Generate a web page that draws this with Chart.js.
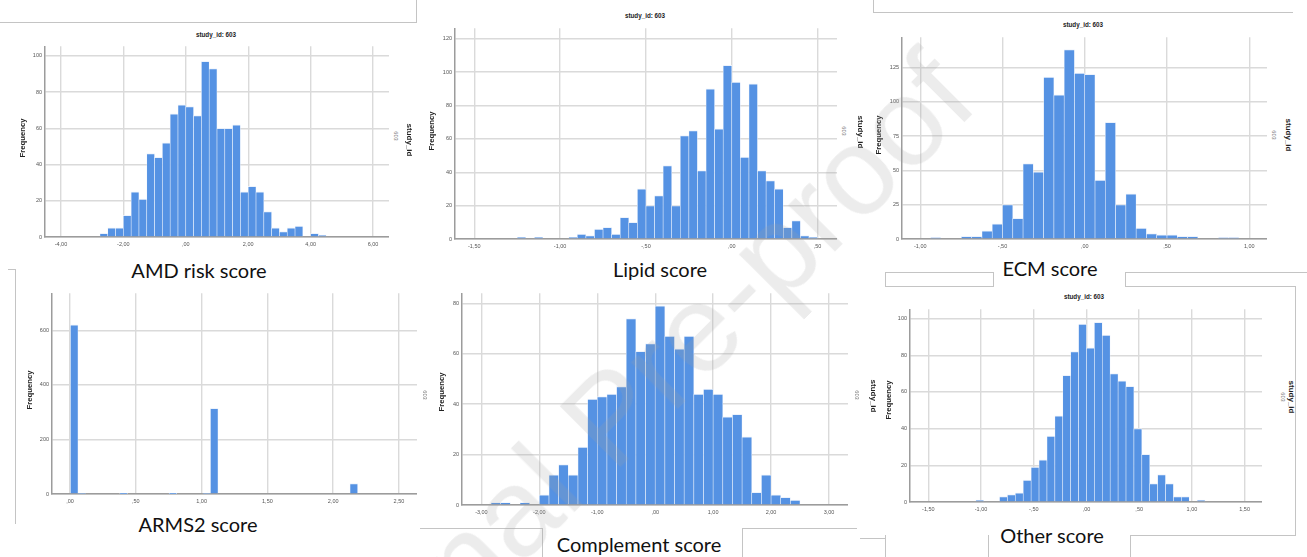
<!DOCTYPE html>
<html>
<head>
<meta charset="utf-8">
<script src="https://cdn.jsdelivr.net/npm/chart.js@4.4.1/dist/chart.umd.min.js"></script>
<style>
  html, body { margin: 0; padding: 0; background: #ffffff; }
  #stage { position: relative; width: 1307px; height: 557px; overflow: hidden; background: #fff; }
  canvas { position: absolute; }
  .t { position: absolute; white-space: nowrap; line-height: 1; transform: translate(-50%, -50%); font-family: "Liberation Sans", Arial, sans-serif; }
  .rot { transform: translate(-50%, -50%) rotate(-90deg); }
  .rotr { transform: translate(-50%, -50%) rotate(90deg); }
  .freq { font-weight: bold; font-size: 7.7px; color: #222; }
  .ttl { font-weight: bold; font-size: 6.3px; color: #222; }
  .sid { font-weight: bold; font-size: 8px; color: #222; }
  .num { font-size: 5.6px; color: #777; }
  .big { font-family: Lato, "Open Sans", sans-serif; font-size: 20px; color: #111; }
  .ln { position: absolute; background: #c4c4c4; }
  #wm { position: absolute; left: 609px; top: 416px; transform: translate(-50%, -50%) rotate(-45deg);
        font-family: "Liberation Sans", Arial, sans-serif; font-size: 125px; color: rgba(160,160,160,0.2);
        white-space: nowrap; line-height: 1; pointer-events: none; z-index: 10; }
</style>
</head>
<body>
<div id="stage"></div>
<script>
// ---------------- DATA ----------------
// AMD risk score
const amdBins   = [-2.625,-2.375,-2.125,-1.875,-1.625,-1.375,-1.125,-0.875,-0.625,-0.375,-0.125,0.125,0.375,0.625,0.875,1.125,1.375,1.625,1.875,2.125,2.375,2.625,2.875,3.125,3.375,3.625,3.875,4.125,4.375];
const amdCounts = [2,5,5,12,25,21,46,44,52,68,73,72,67,97,93,60,60,62,25,28,25,14,5,3,5,6,0,2,1];
const amdXTicks = [-4,-2,0,2,4,6];
const amdXLabels = ['-4,00','-2,00',',00','2,00','4,00','6,00'];
const amdYTicks = [0,20,40,60,80,100];

// Lipid score
const lipidBins   = [-1.225,-1.175,-1.125,-1.075,-1.025,-0.975,-0.925,-0.875,-0.825,-0.775,-0.725,-0.675,-0.625,-0.575,-0.525,-0.475,-0.425,-0.375,-0.325,-0.275,-0.225,-0.175,-0.125,-0.075,-0.025,0.025,0.075,0.125,0.175,0.225,0.275,0.325,0.375,0.425,0.475];
const lipidCounts = [1,0,1,0,0,0,1,3,2,6,7,3,13,10,30,20,26,44,20,62,65,41,90,66,104,94,49,93,41,35,30,7,11,2,1];
const lipidXTicks = [-1.5,-1,-0.5,0,0.5];
const lipidXLabels = ['-1,50','-1,00','-,50',',00',',50'];
const lipidYTicks = [0,20,40,60,80,100,120];

// ECM score
const ecmBins   = [-0.90625,-0.84375,-0.78125,-0.71875,-0.65625,-0.59375,-0.53125,-0.46875,-0.40625,-0.34375,-0.28125,-0.21875,-0.15625,-0.09375,-0.03125,0.03125,0.09375,0.15625,0.21875,0.28125,0.34375,0.40625,0.46875,0.53125,0.59375,0.65625,0.71875,0.78125,0.84375,0.90625];
const ecmCounts = [1,0,0,2,2,6,11,25,15,55,49,118,105,138,121,120,43,85,25,33,8,4,3,3,2,2,0,0,1,1];
const ecmXTicks = [-1,-0.5,0,0.5,1];
const ecmXLabels = ['-1,00','-,50',',00',',50','1,00'];
const ecmYTicks = [0,25,50,75,100,125];

// ARMS2 score
const armsBins   = [0.032,0.090,0.407,0.782,1.038,1.096,2.157];
const armsCounts = [620,2,1,1,2,314,38];
const armsXTicks = [0,0.5,1,1.5,2,2.5];
const armsXLabels = [',00',',50','1,00','1,50','2,00','2,50'];
const armsYTicks = [0,200,400,600];

// Complement score
const compBins   = [-2.75,-2.5833,-2.4167,-2.25,-2.0833,-1.9167,-1.75,-1.5833,-1.4167,-1.25,-1.0833,-0.9167,-0.75,-0.5833,-0.4167,-0.25,-0.0833,0.0833,0.25,0.4167,0.5833,0.75,0.9167,1.0833,1.25,1.4167,1.5833,1.75,1.9167,2.0833,2.25,2.4167];
const compCounts = [1,1,0,1,0,4,12,16,12,23,42,43,44,47,74,61,64,79,67,62,67,44,46,44,35,36,27,5,12,4,3,2];
const compXTicks = [-3,-2,-1,0,1,2,3];
const compXLabels = ['-3,00','-2,00','-1,00',',00','1,00','2,00','3,00'];
const compYTicks = [0,20,40,60,80];

// Other score
const otherBins   = [-1.0125,-0.9375,-0.8625,-0.7875,-0.7125,-0.6375,-0.5625,-0.4875,-0.4125,-0.3375,-0.2625,-0.1875,-0.1125,-0.0375,0.0375,0.1125,0.1875,0.2625,0.3375,0.4125,0.4875,0.5625,0.6375,0.7125,0.7875,0.8625,0.9375,1.0125,1.0875];
const otherCounts = [1,0,0,3,4,5,12,19,23,36,47,69,82,97,84,98,91,70,66,63,40,26,10,15,10,3,3,0,1];
const otherXTicks = [-1.5,-1,-0.5,0,0.5,1,1.5];
const otherXLabels = ['-1,50','-1,00','-,50',',00',',50','1,00','1,50'];
const otherYTicks = [0,20,40,60,80,100];

const panelTitle = 'study_id: 603';
const groupVar = 'study_id';
const groupVal = '603';
// ---------------------------------------

const stage = document.getElementById('stage');
const Y_W = 30, X_H = 16;
const BAR = '#5592e3';

function makePanel(g, bins, counts, xTicks, xLabels, yTicks) {
  const left = Math.round(g.PL) - Y_W;
  const top = Math.round(g.PT);
  const w = Math.round(g.PR) - left;
  const h = Math.round(g.PB) - top + X_H;
  const cv = document.createElement('canvas');
  cv.width = w; cv.height = h;
  cv.style.left = left + 'px'; cv.style.top = top + 'px';
  cv.style.width = w + 'px'; cv.style.height = h + 'px';
  stage.appendChild(cv);
  new Chart(cv.getContext('2d'), {
    type: 'bar',
    data: {
      datasets: [{
        data: bins.map((b, i) => ({ x: b, y: counts[i] })),
        backgroundColor: BAR,
        borderColor: 'rgba(235,242,252,0.9)',
        borderWidth: { top: 1, left: 0.6, right: 0.6, bottom: 0 },
        borderSkipped: false,
        barPercentage: 1,
        categoryPercentage: 1
      }]
    },
    options: {
      responsive: false,
      animation: false,
      devicePixelRatio: 1,
      events: [],
      layout: { padding: 0 },
      plugins: { legend: { display: false }, tooltip: { enabled: false }, title: { display: false } },
      scales: {
        x: {
          type: 'linear', min: g.xmin, max: g.xmax, offset: false,
          afterBuildTicks: s => { s.ticks = xTicks.map(v => ({ value: v })); },
          afterFit: s => { s.height = X_H; },
          ticks: { callback: (v, i) => xLabels[i], autoSkip: false, maxRotation: 0, padding: 4,
                   color: '#555', font: { family: 'Liberation Sans', size: 5.5 } },
          grid: { color: '#dadada', lineWidth: 1.4, drawTicks: false, offset: false },
          border: { color: '#9c9c9c', width: 1.5 }
        },
        y: {
          type: 'linear', min: 0, max: g.ymax,
          afterBuildTicks: s => { s.ticks = yTicks.map(v => ({ value: v })); },
          afterFit: s => { s.width = Y_W; },
          ticks: { callback: v => String(v), padding: 3, color: '#555', font: { family: 'Liberation Sans', size: 5.5 } },
          grid: { color: '#dadada', lineWidth: 1.4, drawTicks: false },
          border: { color: '#9c9c9c', width: 1.5 }
        }
      }
    }
  });
}

makePanel({PL:45, PR:389, PT:40, PB:237.3, xmin:-4.51, xmax:6.51, ymax:105.3}, amdBins, amdCounts, amdXTicks, amdXLabels, amdYTicks);
makePanel({PL:455, PR:836.7, PT:21.7, PB:238.7, xmin:-1.6125, xmax:0.613, ymax:126.2}, lipidBins, lipidCounts, lipidXTicks, lipidXLabels, lipidYTicks);
makePanel({PL:901.7, PR:1266.7, PT:31, PB:239.3, xmin:-1.111, xmax:1.108, ymax:147}, ecmBins, ecmCounts, ecmXTicks, ecmXLabels, ecmYTicks);
makePanel({PL:52.3, PR:417.3, PT:286.7, PB:494.3, xmin:-0.137, xmax:2.637, ymax:735.6}, armsBins, armsCounts, armsXTicks, armsXLabels, armsYTicks);
makePanel({PL:462.3, PR:848.3, PT:287.3, PB:505, xmin:-3.335, xmax:3.328, ymax:84}, compBins, compCounts, compXTicks, compXLabels, compYTicks);
makePanel({PL:910, PR:1261.7, PT:302.7, PB:502.3, xmin:-1.674, xmax:1.665, ymax:105.05}, otherBins, otherCounts, otherXTicks, otherXLabels, otherYTicks);

function txt(s, cls, x, y) {
  const d = document.createElement('div');
  d.className = 't ' + cls;
  d.textContent = s;
  d.style.left = x + 'px'; d.style.top = y + 'px';
  stage.appendChild(d);
}
function line(x, y, w, h) {
  const d = document.createElement('div');
  d.className = 'ln';
  d.style.left = x + 'px'; d.style.top = y + 'px';
  d.style.width = w + 'px'; d.style.height = h + 'px';
  stage.appendChild(d);
}

// panel titles
txt(panelTitle, 'ttl', 216, 35);
txt(panelTitle, 'ttl', 645, 16);
txt(panelTitle, 'ttl', 1083, 25);
txt(panelTitle, 'ttl', 1084, 297);

// y-axis titles
txt('Frequency', 'freq rot', 23, 138);
txt('Frequency', 'freq rot', 432, 131);
txt('Frequency', 'freq rot', 879, 135);
txt('Frequency', 'freq rot', 30, 390);
txt('Frequency', 'freq rot', 442, 392);
txt('Frequency', 'freq rot', 889, 400);

// right-side panel variable labels
txt(groupVal, 'num rotr', 395, 136);
txt(groupVar, 'sid rotr', 409, 140);
txt(groupVal, 'num rotr', 843, 131);
txt(groupVar, 'sid rotr', 860, 132);
txt(groupVal, 'num rotr', 1273, 135);
txt(groupVar, 'sid rotr', 1288, 135);
txt(groupVal, 'num rotr', 424, 395);
txt(groupVal, 'num rotr', 856, 395);
txt(groupVar, 'sid rotr', 873, 396);
txt(groupVal, 'num rotr', 1282, 397);
txt(groupVar, 'sid rotr', 1291, 397);

// big captions
txt('AMD risk score', 'big', 199, 270);
txt('Lipid score', 'big', 660, 269);
txt('ECM score', 'big', 1050, 268);
txt('ARMS2 score', 'big', 198, 524);
txt('Complement score', 'big', 639, 544);
txt('Other score', 'big', 1052, 535);

// frame fragments
line(0, 22, 416, 1); line(416, 0, 1, 23);
line(873, 12, 420, 1); line(873, 0, 1, 13);
line(8, 269, 7, 1); line(15, 269, 1, 255);
line(885, 272, 108, 1); line(885, 286, 108, 1); line(885, 272, 1, 15); line(993, 272, 1, 15);
line(1125, 272, 182, 1); line(1125, 272, 1, 15); line(1125, 286, 170, 1); line(1295, 286, 1, 250);
line(860, 538, 25, 1); line(885, 535, 1, 22); line(988, 535, 1, 22); line(1130, 535, 1, 22); line(1130, 535, 165, 1);
line(420, 528, 122, 1); line(542, 528, 1, 29); line(742, 528, 1, 29); line(742, 528, 115, 1);

// watermark
const wm = document.createElement('div');
wm.id = 'wm';
wm.textContent = 'Journal Pre-proof';
stage.appendChild(wm);
</script>
</body>
</html>
